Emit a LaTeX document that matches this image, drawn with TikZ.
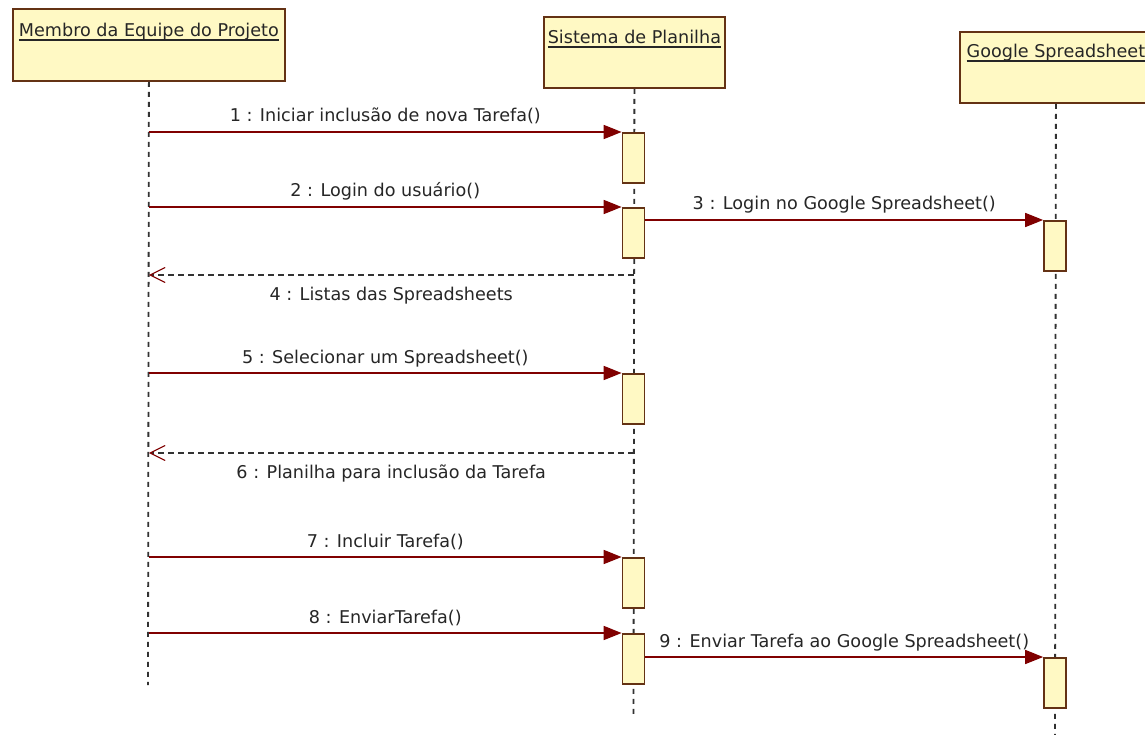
\documentclass[tikz,border=0pt]{standalone}
\usepackage{fontspec}
\setmainfont{DejaVu Sans}
\usetikzlibrary{arrows.meta}
\definecolor{boxfill}{RGB}{255,249,196}
\definecolor{boxline}{RGB}{100,50,20}
\definecolor{msgred}{RGB}{128,0,0}
\definecolor{lifegray}{RGB}{50,50,50}
\newcommand\myul[1]{\setbox0\hbox{#1}\rlap{\vrule height -2.2pt depth 3.8pt width \wd0}\box0}
\begin{document}
\begin{tikzpicture}[x=1pt,y=-1pt,font=\fontsize{17.6}{21}\selectfont,
  header/.style={draw=boxline,line width=1.8pt,fill=boxfill,inner sep=0pt,anchor=north west},
  actbox/.style={draw=boxline,line width=1.7pt,fill=boxfill,minimum width=22pt,minimum height=50pt,inner sep=0pt,anchor=north},
  lifeline/.style={lifegray,line width=1.8pt,dash pattern=on 5pt off 5pt},
  msg/.style={msgred,line width=1.5pt,-{Triangle[length=18pt,width=14pt]}},
  ret/.style={lifegray,line width=1.4pt,dash pattern=on 6pt off 4pt,-{Straight Barb[length=15pt,width=15pt,color=msgred,line width=1.1pt]}},
  lbl/.style={anchor=base,inner sep=0pt,text=black!85}]
\path[use as bounding box] (0,0) rectangle (1145,735);
\fill[white] (0,0) rectangle (1145,735);
\clip (0,0) rectangle (1145,735);
% headers
\node[header,minimum width=272pt,minimum height=72pt] (hA) at (12,8) {};
\node[header,minimum width=181pt,minimum height=71pt] (hB) at (543,16) {};
\node[header,minimum width=192pt,minimum height=71pt] (hC) at (959,31) {};
\node[lbl] (tA) at (hA.north |- 0,37) {\myul{Membro da Equipe do Projeto}};
\node[lbl] (tB) at (hB.north |- 0,44) {\myul{Sistema de Planilha}};
\node[lbl] (tC) at (hC.north |- 0,58) {\myul{Google Spreadsheet}};
% lifelines
\coordinate (eA) at (148,685);
\coordinate (eB) at (633.5,716);
\coordinate (eC) at (1055,740);
\draw[lifeline] (hA.south) -- (eA);
\draw[lifeline] (hB.south) -- (eB);
\draw[lifeline] (hC.south) -- (eC);
% activations
\node[actbox] (a1) at (633.5,132) {};
\node[actbox] (a2) at (633.5,207) {};
\node[actbox] (a3) at (633.5,373) {};
\node[actbox] (a4) at (633.5,557) {};
\node[actbox] (a5) at (633.5,633) {};
\node[actbox] (g1) at (1055,220) {};
\node[actbox] (g2) at (1055,657) {};
% messages
\draw[msg] (hA.south |- a1.north west) -- node[lbl,midway,yshift=10pt] (m1) {1 : Iniciar inclusão de nova Tarefa()} (a1.north west);
\draw[msg] (hA.south |- a2.north west) -- node[lbl,midway,yshift=10pt] (m2) {2 : Login do usuário()} (a2.north west);
\draw[msg] (a2.east |- g1.north west) -- node[lbl,midway,yshift=10pt] (m3) {3 : Login no Google Spreadsheet()} (g1.north west);
\coordinate (r4) at (633.5,275);
\draw[ret] (r4) -- node[lbl,midway,yshift=-25pt] (m4) {4 : Listas das Spreadsheets} (hA.south |- r4);
\draw[msg] (hA.south |- a3.north west) -- node[lbl,midway,yshift=10pt] (m5) {5 : Selecionar um Spreadsheet()} (a3.north west);
\coordinate (r6) at (633.5,453);
\draw[ret] (r6) -- node[lbl,midway,yshift=-25pt] (m6) {6 : Planilha para inclusão da Tarefa} (hA.south |- r6);
\draw[msg] (hA.south |- a4.north west) -- node[lbl,midway,yshift=10pt] (m7) {7 : Incluir Tarefa()} (a4.north west);
\draw[msg] (hA.south |- a5.north west) -- node[lbl,midway,yshift=10pt] (m8) {8 : EnviarTarefa()} (a5.north west);
\draw[msg] (a5.east |- g2.north west) -- node[lbl,midway,yshift=10pt] (m9) {9 : Enviar Tarefa ao Google Spreadsheet()} (g2.north west);
\end{tikzpicture}
\end{document}
